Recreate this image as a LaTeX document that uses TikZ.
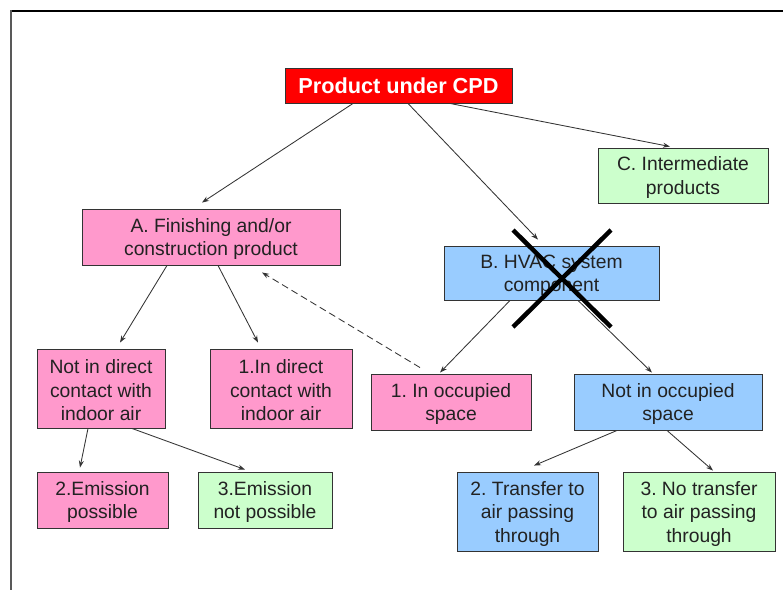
\documentclass[tikz,border=0pt]{standalone}
\usepackage{fontspec}
\setmainfont{Liberation Sans}
\usetikzlibrary{arrows.meta}
\frenchspacing
\definecolor{boxpink}{HTML}{FF99CC}
\definecolor{boxgreen}{HTML}{CCFFCC}
\definecolor{boxblue}{HTML}{99CCFF}
\definecolor{boxred}{HTML}{FF0000}
\definecolor{edge}{HTML}{333333}
\definecolor{ink}{HTML}{222222}
% taller first line, so the block of text sits a little low in its box
\newcommand\firststrut{\rule{0pt}{18pt}}
\tikzset{
  box/.style={draw=edge, line width=0.9pt, align=center, inner sep=0pt,
    text=ink, font=\fontsize{19.3}{23.5}\selectfont},
  pinkbox/.style={box, fill=boxpink},
  greenbox/.style={box, fill=boxgreen},
  bluebox/.style={box, fill=boxblue},
  arr/.style={draw=edge, line width=0.85pt, -{Stealth[length=7pt,width=5pt]}},
  dasharr/.style={arr, dash pattern=on 7pt off 4pt},
}
\begin{document}
\begin{tikzpicture}[x=1pt, y=-1pt]
\useasboundingbox (0,0) rectangle (783,590);
% page frame
\draw[black, line width=2pt] (10,10.5) -- (783,10.5);
\draw[black!65, line width=1.3pt] (11,10) -- (11,590);

% boxes
\node[box, fill=boxred, text=white, minimum width=227pt, minimum height=35pt,
  font=\fontsize{21.7}{24}\selectfont\bfseries] (top) at (398.5,85.5) {Product under CPD};
\node[greenbox, minimum width=170pt, minimum height=55pt] (C) at (683,175.5) {\firststrut C. Intermediate\\products};
\node[pinkbox, minimum width=258pt, minimum height=56pt] (A) at (211,237) {\firststrut A. Finishing and/or\\construction product};
\node[bluebox, minimum width=215pt, minimum height=54pt] (B) at (551.5,273) {\firststrut B. HVAC system\\component};
\node[pinkbox, minimum width=128pt, minimum height=79pt] (nd) at (101,388.5) {\firststrut Not in direct\\contact with\\indoor air};
\node[pinkbox, minimum width=142pt, minimum height=79pt] (d) at (281,388.5) {\firststrut 1.In direct\\contact with\\indoor air};
\node[pinkbox, minimum width=160pt, minimum height=56pt] (oc) at (451,402) {\firststrut 1. In occupied\\space};
\node[bluebox, minimum width=188pt, minimum height=56pt] (no) at (668,402) {\firststrut Not in occupied\\space};
\node[pinkbox, minimum width=131pt, minimum height=56pt] (e2) at (102.5,500) {\firststrut 2.Emission\\possible};
\node[greenbox, minimum width=134pt, minimum height=56pt] (e3) at (265,500) {\firststrut 3.Emission\\not possible};
\node[bluebox, minimum width=141pt, minimum height=79pt] (t2) at (527.5,511.5) {\firststrut 2. Transfer to\\air passing\\through};
\node[greenbox, minimum width=152pt, minimum height=79pt] (t3) at (699,511.5) {\firststrut 3. No transfer\\to air passing\\through};

% connectors
\draw[arr] ([xshift=-45.5pt]top.south) -- ([xshift=-9pt,yshift=6pt]A.north);
\draw[arr] ([xshift=9.5pt]top.south) -- ([xshift=-13.5pt,yshift=6pt]B.north);
\draw[arr] ([xshift=51.5pt]top.south) -- ([xshift=-13pt,yshift=1pt]C.north);
\draw[arr] ([xshift=-44pt]A.south) -- ([xshift=19pt,yshift=6pt]nd.north);
\draw[arr] ([xshift=7pt]A.south) -- ([xshift=-23pt,yshift=6pt]d.north);
\draw[dasharr] ([xshift=-31pt,yshift=6pt]oc.north) -- ([xshift=51pt,yshift=-7pt]A.south);
\draw[arr] ([xshift=-41.5pt]B.south) -- ([xshift=-11pt,yshift=1pt]oc.north);
\draw[arr] ([xshift=26.5pt]B.south) -- ([xshift=-16pt,yshift=1pt]no.north);
\draw[arr] ([xshift=-13pt]nd.south) -- ([xshift=-22.5pt,yshift=4pt]e2.north);
\draw[arr] ([xshift=31pt]nd.south) -- ([xshift=-20pt,yshift=2pt]e3.north);
\draw[arr] ([xshift=-51pt]no.south) -- ([xshift=6.5pt,yshift=6pt]t2.north);
\draw[arr] ([xshift=-1pt]no.south) -- ([xshift=14pt,yshift=1pt]t3.north);

% cross over the HVAC box
\draw[black, line width=4.5pt] (513,230) -- (611,327);
\draw[black, line width=4.5pt] (611,230) -- (513,327);
\end{tikzpicture}
\end{document}
